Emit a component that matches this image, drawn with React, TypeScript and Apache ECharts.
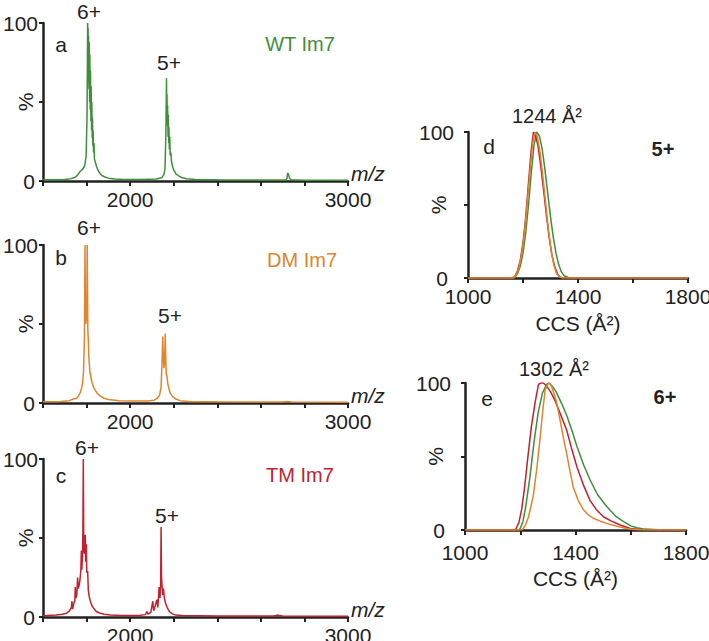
import React, { useEffect, useRef } from "react";
import * as echarts from "echarts";

// ---- Mass spectra (m/z, % intensity) ----
const wtSpectrum: number[][] = [
  [1600, 0.8], [1650, 0.8], [1700, 1.0], [1730, 1.5], [1750, 2.5], [1760, 4], [1770, 6], [1778, 7], [1785, 8],
  [1792, 10], [1798, 16], [1802, 40], [1805, 100], [1806, 70], [1807, 97], [1808, 62], [1809, 92], [1811, 58],
  [1812, 88], [1814, 50], [1815, 80], [1817, 45], [1818, 70], [1820, 38], [1821, 60], [1823, 32], [1824, 50],
  [1826, 27], [1827, 40], [1829, 22], [1830, 32], [1832, 18], [1834, 24], [1836, 14], [1840, 12], [1846, 9],
  [1852, 7], [1860, 5], [1870, 3.5], [1885, 2.5], [1900, 1.8], [1930, 1.3], [1970, 1.0], [2050, 1.0], [2120, 1.2],
  [2145, 2], [2155, 4], [2160, 8], [2164, 30], [2167, 65], [2168, 40], [2169, 55], [2171, 35], [2172, 48],
  [2174, 28], [2175, 42], [2177, 24], [2178, 34], [2180, 20], [2182, 28], [2184, 16], [2187, 18], [2190, 12],
  [2195, 9], [2200, 7], [2210, 4.5], [2225, 3], [2240, 2], [2260, 1.4], [2300, 1.0], [2400, 0.8], [2600, 0.6],
  [2715, 0.6], [2720, 1.5], [2723, 5], [2726, 4.5], [2729, 3], [2733, 1.5], [2740, 0.8], [2800, 0.5], [3000, 0.4],
];

const dmSpectrum: number[][] = [
  [1600, 0.8], [1680, 1], [1720, 1.5], [1740, 2.5], [1755, 3], [1765, 5], [1772, 7], [1778, 10], [1782, 13],
  [1786, 20], [1790, 40], [1793, 100], [1795, 55], [1797, 50], [1799, 58], [1801, 52], [1803, 100], [1805, 60],
  [1806, 45], [1808, 40], [1810, 30], [1812, 26], [1815, 20], [1820, 16], [1825, 13], [1832, 10], [1840, 8],
  [1850, 6], [1862, 4.5], [1880, 3], [1900, 2.2], [1950, 1.5], [2000, 1.2], [2080, 1.2], [2110, 1.8], [2125, 3],
  [2135, 5], [2142, 10], [2146, 25], [2150, 42], [2152, 30], [2155, 22], [2158, 25], [2161, 44], [2163, 30],
  [2166, 18], [2169, 17], [2173, 12], [2178, 9], [2185, 6], [2195, 4], [2210, 2.5], [2230, 1.5], [2270, 1],
  [2400, 0.8], [2700, 0.6], [2720, 1], [2740, 0.6], [3000, 0.5],
];

const tmSpectrum: number[][] = [
  [1600, 0.8], [1660, 1.2], [1690, 1.8], [1710, 2.5], [1722, 4], [1730, 6], [1733, 10], [1736, 5], [1742, 9],
  [1746, 10], [1748, 19], [1751, 12], [1755, 14], [1759, 25], [1762, 18], [1766, 20], [1770, 24], [1774, 30],
  [1776, 42], [1778, 30], [1781, 38], [1783, 53], [1785, 100], [1787, 45], [1789, 40], [1792, 48], [1794, 52],
  [1796, 35], [1799, 46], [1801, 28], [1805, 29], [1808, 17], [1812, 13], [1817, 10], [1825, 7], [1835, 5],
  [1845, 3.5], [1860, 2.5], [1880, 1.8], [1910, 1.2], [1960, 1.0], [2040, 1.0], [2070, 1.5], [2077, 3.5],
  [2082, 1.8], [2095, 3], [2104, 10], [2108, 4], [2115, 7], [2123, 11], [2127, 6], [2133, 19], [2137, 12],
  [2140, 20], [2142, 57], [2144, 25], [2147, 19], [2150, 14], [2153, 18], [2157, 12], [2162, 9], [2170, 6],
  [2180, 3.5], [2193, 2], [2210, 1.2], [2240, 0.9], [2400, 0.7], [2660, 0.6], [2675, 1.2], [2685, 1],
  [2700, 0.6], [3000, 0.5],
];

// ---- CCS distributions 5+ (CCS Å², %) ----
const ccs5Red: number[][] = [
  [1000, 0], [1160, 0], [1170, 1], [1180, 5], [1190, 12], [1200, 24], [1210, 42], [1220, 65], [1230, 88],
  [1238, 100], [1245, 98], [1255, 90], [1265, 76], [1275, 60], [1285, 43], [1295, 28], [1305, 16], [1315, 8],
  [1325, 3], [1335, 0.5], [1345, 0], [1800, 0],
];
const ccs5Orange: number[][] = [
  [1000, 0], [1165, 0], [1175, 2], [1185, 7], [1195, 16], [1205, 30], [1215, 50], [1225, 72], [1235, 92],
  [1244, 100], [1252, 97], [1262, 86], [1272, 70], [1282, 52], [1292, 34], [1302, 19], [1312, 9], [1322, 3],
  [1335, 0.5], [1345, 0], [1800, 0],
];
const ccs5Green: number[][] = [
  [1000, 0], [1170, 0], [1180, 3], [1190, 8], [1200, 17], [1210, 31], [1220, 50], [1230, 72], [1240, 91],
  [1250, 100], [1260, 97], [1270, 88], [1280, 74], [1290, 58], [1300, 42], [1310, 28], [1320, 17], [1330, 9],
  [1340, 4], [1350, 1.5], [1365, 0.3], [1380, 0], [1800, 0],
];

// ---- CCS distributions 6+ ----
const ccs6Red: number[][] = [
  [1000, 0], [1180, 0], [1185, 1], [1195, 5], [1205, 14], [1215, 28], [1229, 52], [1240, 70], [1254, 87],
  [1266, 99], [1275, 100], [1284, 100], [1295, 98], [1310, 94], [1326, 88], [1345, 79], [1368, 68], [1385, 56],
  [1405, 43], [1430, 30], [1453, 20], [1475, 14], [1501, 9], [1530, 6], [1562, 3.4], [1598, 1], [1630, 0.3],
  [1700, 0], [1800, 0],
];
const ccs6Green: number[][] = [
  [1000, 0], [1195, 0], [1200, 1], [1210, 6], [1220, 16], [1235, 36], [1250, 60], [1265, 80], [1280, 93],
  [1295, 99], [1305, 100], [1315, 98], [1330, 94], [1350, 86], [1370, 77], [1390, 66], [1405, 57], [1430, 44],
  [1453, 34], [1480, 24], [1513, 16], [1545, 9.5], [1574, 5.7], [1600, 2.8], [1622, 1.5], [1650, 0.6],
  [1700, 0.2], [1800, 0],
];
const ccs6Orange: number[][] = [
  [1000, 0], [1205, 0], [1211, 1], [1220, 4], [1230, 9], [1247, 23], [1260, 42], [1272, 63], [1282, 82],
  [1290, 95], [1300, 99.5], [1306, 100], [1315, 97], [1330, 88], [1344, 75], [1356, 63], [1368, 52], [1380, 40],
  [1392, 29], [1410, 20], [1428, 14], [1445, 10.5], [1464, 8], [1490, 6], [1513, 4.5], [1550, 2.5], [1585, 1],
  [1610, 0.3], [1650, 0], [1800, 0],
];

const mzLabels = [2000, 3000];
const ccsLabels = [1000, 1400, 1800];
const yLabels = [0, 100];

const GREEN = "#3f8f3a";
const ORANGE = "#e0852e";
const RED = "#c0232f";
const INK = "#222222";
const FONT = '"Liberation Sans", Arial, sans-serif';

function txt(text: string, x: number, y: number, opts: any = {}) {
  return {
    type: "text",
    x,
    y,
    z: 100,
    style: {
      text,
      fill: opts.fill || INK,
      font: `${opts.italic ? "italic " : ""}${opts.bold ? "bold " : ""}${opts.size || 21}px ${FONT}`,
      align: opts.align || "center",
      verticalAlign: "middle",
      textAlign: opts.align || "center",
      textVerticalAlign: "middle",
    },
  };
}

export default function App() {
  const ref = useRef<HTMLDivElement>(null);
  useEffect(() => {
    if (!ref.current) return;
    const chart = echarts.init(ref.current, null, { renderer: "svg" });

    const axisLine = { show: true, lineStyle: { color: INK, width: 2.5 } };
    const axisTick = { show: true, length: 4, lineStyle: { color: INK, width: 2 } };

    const gridBase = { containLabel: false, outerBoundsMode: "none" };
    const grid = [
      { ...gridBase, left: 43, top: 23, width: 305, height: 158 },
      { ...gridBase, left: 43, top: 245, width: 305, height: 158 },
      { ...gridBase, left: 43, top: 459, width: 305, height: 158 },
      { ...gridBase, left: 468, top: 132, width: 220, height: 146 },
      { ...gridBase, left: 465, top: 383, width: 221, height: 147 },
    ];

    const xAxis: any[] = [];
    const yAxis: any[] = [];
    for (let i = 0; i < 3; i++) {
      xAxis.push({
        gridIndex: i, type: "value", min: 1600, max: 3000, interval: 200,
        axisLine, axisTick: { ...axisTick, length: 5 }, splitLine: { show: false },
        axisLabel: {
          formatter: (v: number) => (mzLabels.includes(v) ? String(v) : ""),
          fontSize: 21, color: INK, fontFamily: FONT, margin: 8,
        },
      });
      yAxis.push({
        gridIndex: i, type: "value", min: 0, max: 100, interval: 50,
        axisLine, axisTick, splitLine: { show: false },
        axisLabel: {
          formatter: (v: number) => (v === 0 ? "{z|0}" : v === 100 ? "100" : ""),
          fontSize: 21, color: INK, fontFamily: FONT, margin: 5,
          rich: { z: { fontSize: 21, color: INK, fontFamily: FONT, padding: [0, 3, 0, 0] } },
        },
        name: "%", nameLocation: "middle", nameRotate: 90, nameGap: 7, nameMoveOverlap: false,
        nameTextStyle: { fontSize: 21, color: INK, fontFamily: FONT },
      });
    }
    [0, 1].forEach((j) => {
      const gi = 3 + j;
      xAxis.push({
        gridIndex: gi, type: "value", min: 1000, max: 1800, interval: 200,
        axisLine, axisTick: { ...axisTick, length: 5 }, splitLine: { show: false },
        axisLabel: {
          formatter: (v: number) => (ccsLabels.includes(v) ? String(v) : ""),
          fontSize: 21, color: INK, fontFamily: FONT, margin: j === 0 ? 8 : 12,
        },
        name: "CCS (Å²)", nameLocation: "middle", nameGap: j === 0 ? 35 : 38, nameMoveOverlap: false,
        nameTextStyle: { fontSize: 21, color: INK, fontFamily: FONT },
      });
      yAxis.push({
        gridIndex: gi, type: "value", min: 0, max: 100, interval: 50,
        axisLine, axisTick, splitLine: { show: false },
        axisLabel: {
          formatter: (v: number) => (v === 0 ? "{z|0}" : v === 100 ? "100" : ""),
          fontSize: 21, color: INK, fontFamily: FONT, margin: 14,
          rich: { z: { fontSize: 21, color: INK, fontFamily: FONT, padding: [0, 6, 0, 0] } },
        },
        name: "%", nameLocation: "middle", nameRotate: 90, nameGap: 19, nameMoveOverlap: false,
        nameTextStyle: { fontSize: 21, color: INK, fontFamily: FONT },
      });
    });

    const line = (data: number[][], idx: number, color: string, width = 1.5) => ({
      type: "line", xAxisIndex: idx, yAxisIndex: idx, data, symbol: "none", showSymbol: false,
      lineStyle: { color, width }, silent: true,
    });

    const series = [
      line(wtSpectrum, 0, GREEN),
      line(dmSpectrum, 1, ORANGE),
      line(tmSpectrum, 2, RED),
      line(ccs5Green, 3, GREEN),
      line(ccs5Red, 3, RED),
      line(ccs5Orange, 3, ORANGE),
      line(ccs6Green, 4, GREEN),
      line(ccs6Red, 4, RED),
      line(ccs6Orange, 4, ORANGE),
    ];

    const graphic = [
      // panel a
      txt("6+", 89, 11), txt("5+", 169, 62), txt("a", 61, 44),
      txt("WT Im7", 300, 44, { fill: GREEN, size: 20 }),
      txt("m/z", 351, 173, { align: "left", italic: true }),
      // panel b
      txt("6+", 89, 227), txt("5+", 170, 315), txt("b", 61, 257),
      txt("DM Im7", 302, 260, { fill: ORANGE, size: 20 }),
      txt("m/z", 351, 395, { align: "left", italic: true }),
      // panel c
      txt("6+", 87, 447), txt("5+", 167, 515), txt("c", 61, 475),
      txt("TM Im7", 300, 475, { fill: RED, size: 20 }),
      txt("m/z", 351, 609, { align: "left", italic: true }),
      // panel d
      txt("d", 489, 146), txt("1244 Å²", 547, 116, { size: 20 }),
      txt("5+", 663, 149, { bold: true, size: 20 }),
      // panel e
      txt("e", 487, 398), txt("1302 Å²", 554, 369, { size: 20 }),
      txt("6+", 665, 397, { bold: true, size: 20 }),
    ];

    chart.setOption({
      animation: false,
      backgroundColor: "#ffffff",
      grid,
      xAxis,
      yAxis,
      series,
      graphic,
    });
    return () => chart.dispose();
  }, []);
  return (
    <div
      ref={ref}
      style={{ position: "absolute", left: 0, top: 0, width: 709, height: 641 }}
    />
  );
}
